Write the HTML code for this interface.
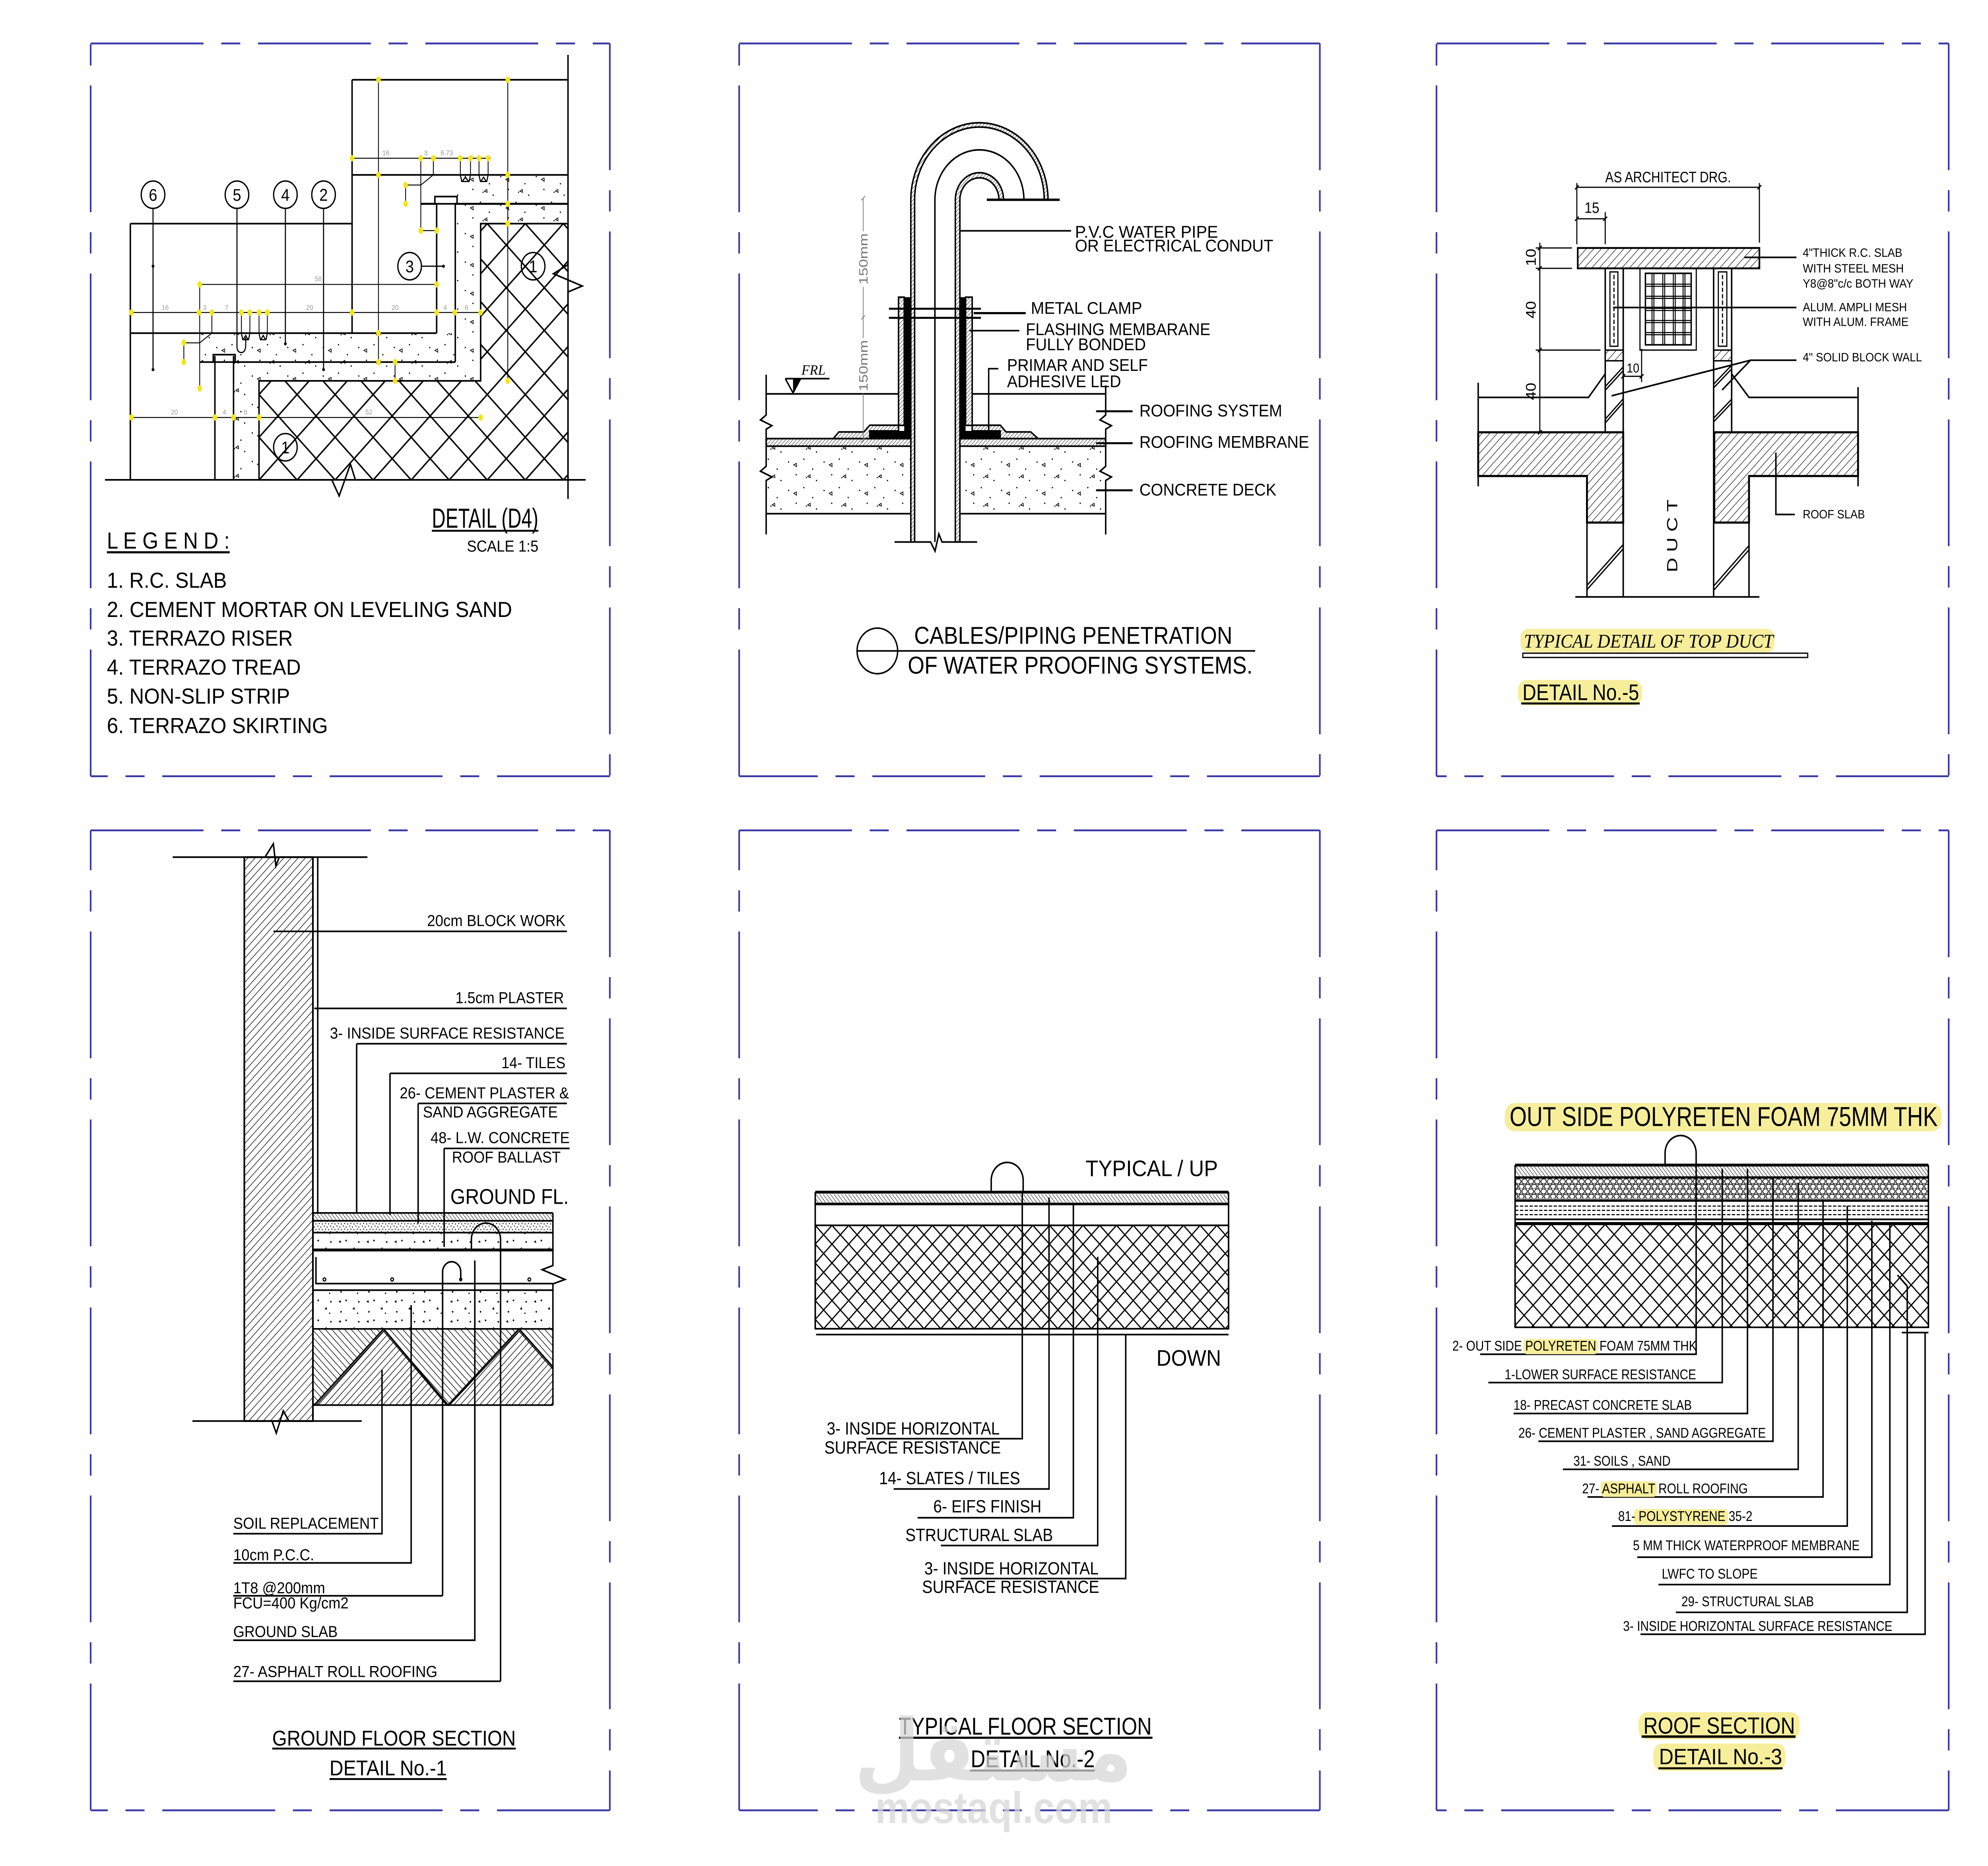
<!DOCTYPE html>
<html><head><meta charset="utf-8"><title>Construction Details</title>
<style>
html,body{margin:0;padding:0;background:#fff;width:100%;height:100%;overflow:hidden}
svg#main{position:absolute;left:0;top:0;width:100vw;height:100vh;display:block}
</style></head>
<body>
<svg id="main" xmlns="http://www.w3.org/2000/svg" viewBox="0 0 1568 1310.1" preserveAspectRatio="none" font-family="'Liberation Sans', Arial, sans-serif">
<defs>
<pattern id="xh30" patternUnits="userSpaceOnUse" x="204.3" y="157" width="30" height="30"><path d="M0,0L30,30M30,0L0,30M-2,28L2,32M28,-2L32,2" stroke="#000" stroke-width="1.1" fill="none"/></pattern>
<pattern id="xh13" patternUnits="userSpaceOnUse" x="643" y="860.3" width="13.2" height="13.2"><path d="M0,0L13.2,13.2M13.2,0L0,13.2" stroke="#000" stroke-width="0.9" fill="none"/></pattern>
<pattern id="xh14" patternUnits="userSpaceOnUse" x="1195" y="859.6" width="14.2" height="14.2"><path d="M0,0L14.2,14.2M14.2,0L0,14.2" stroke="#000" stroke-width="0.9" fill="none"/></pattern>
<pattern id="hw" patternUnits="userSpaceOnUse" width="4" height="4" patternTransform="rotate(45)"><line x1="0" y1="-1" x2="0" y2="5" stroke="#000" stroke-width="0.8"/></pattern>
<pattern id="hA" patternUnits="userSpaceOnUse" width="3.6" height="4" patternTransform="rotate(45)"><line x1="0" y1="-1" x2="0" y2="5" stroke="#000" stroke-width="0.85"/></pattern>
<pattern id="hB" patternUnits="userSpaceOnUse" width="3.6" height="4" patternTransform="rotate(-45)"><line x1="0" y1="-1" x2="0" y2="5" stroke="#000" stroke-width="0.85"/></pattern>
<pattern id="h45" patternUnits="userSpaceOnUse" width="4.2" height="4" patternTransform="rotate(45)"><line x1="0" y1="-1" x2="0" y2="5" stroke="#000" stroke-width="0.7"/></pattern>
<pattern id="h25" patternUnits="userSpaceOnUse" width="2" height="4" patternTransform="rotate(45)"><line x1="0" y1="-1" x2="0" y2="5" stroke="#000" stroke-width="0.5"/></pattern>
<pattern id="htile" patternUnits="userSpaceOnUse" width="2.2" height="4" patternTransform="rotate(-40)"><line x1="0" y1="-1" x2="0" y2="5" stroke="#000" stroke-width="0.6"/></pattern>
<pattern id="conc" patternUnits="userSpaceOnUse" width="28" height="20">
<g fill="#000"><circle cx="3" cy="4" r="0.5"/><circle cx="15" cy="2" r="0.5"/><circle cx="22" cy="9" r="0.5"/><circle cx="9" cy="13" r="0.5"/><circle cx="25" cy="17" r="0.5"/><circle cx="17" cy="15" r="0.45"/></g>
<g fill="none" stroke="#000" stroke-width="0.5"><path d="M7,6l2.2,-1l0.1,2.3z"/><path d="M20,13l-2,1.2l2.2,0.8z"/></g>
</pattern>
<pattern id="concB" patternUnits="userSpaceOnUse" width="22" height="14">
<g fill="#000"><path d="M3,4l1.6,-1.2l0.3,1.9z"/><path d="M14,9l1.5,-1.4l0.4,2z"/><circle cx="9" cy="3" r="0.6"/><circle cx="19" cy="4" r="0.6"/><circle cx="5" cy="11" r="0.6"/><circle cx="18" cy="12" r="0.5"/></g>
</pattern>
<pattern id="dense" patternUnits="userSpaceOnUse" width="5" height="4">
<g fill="#000"><circle cx="0.8" cy="0.8" r="0.4"/><circle cx="3" cy="1.5" r="0.4"/><circle cx="1.8" cy="3" r="0.4"/><circle cx="4.2" cy="3.3" r="0.4"/></g>
</pattern>
<pattern id="peb" patternUnits="userSpaceOnUse" x="1195" y="827.5" width="5" height="7">
<g fill="none" stroke="#000" stroke-width="0.55"><ellipse cx="2.5" cy="2" rx="2.1" ry="1.8"/><ellipse cx="0" cy="5.5" rx="2.1" ry="1.6"/><ellipse cx="5" cy="5.5" rx="2.1" ry="1.6"/></g>
</pattern>
</defs>
<rect width="1568" height="1310.1" fill="#fff"/>

<!-- ===== Panel borders ===== -->
<g stroke="#3b39a6" stroke-width="1.3" fill="none" stroke-dasharray="89 14 15 14">
<path d="M71.5,30.5H481"/><path d="M481,30.5V545"/><path d="M481,545H71.5"/><path d="M71.5,545V30.5"/>
<path d="M583,30.5H1041"/><path d="M1041,30.5V545"/><path d="M1041,545H583"/><path d="M583,545V30.5"/>
<path d="M1133,30.5H1537"/><path d="M1537,30.5V545"/><path d="M1537,545H1133"/><path d="M1133,545V30.5"/>
<path d="M71.5,583H481"/><path d="M481,583V1271"/><path d="M481,1271H71.5"/><path d="M71.5,1271V583"/>
<path d="M583,583H1041"/><path d="M1041,583V1271"/><path d="M1041,1271H583"/><path d="M583,1271V583"/>
<path d="M1133,583H1537"/><path d="M1537,583V1271"/><path d="M1537,1271H1133"/><path d="M1133,1271V583"/>
</g>

<!-- ===== PANEL 1: DETAIL D4 ===== -->
<g>
<path d="M359.1,143.1H448V157H379.1V267.4H204.3V336.9H184.2V254.2H359.1Z" fill="url(#conc)"/>
<rect x="359.1" y="122.8" width="88.9" height="20.3" fill="url(#conc)"/>
<rect x="157.5" y="233.9" width="201.6" height="20.3" fill="url(#conc)"/>
<path d="M379.1,157H448V336.9H204.3V267.4H379.1Z" fill="url(#xh30)" stroke="#000" stroke-width="1.15"/>
<g fill="none" stroke="#000" stroke-width="1.15">
<path d="M277.7,56H448"/>
<path d="M277.7,56V233.9"/>
<path d="M277.7,122.8H448"/>
<path d="M331.9,143.1H344.4M359.1,143.1H448" stroke-width="1.4"/>
<path d="M344.4,143.1V233.9"/>
<path d="M359.1,143.1V254.2"/>
<rect x="343" y="138" width="17.5" height="5.1"/>
<path d="M102.8,233.9H344.4"/>
<path d="M184.2,254.2H359.1"/>
<path d="M157.5,254.2H169.5"/>
<path d="M169.5,249.9V336.9M184.2,249.9V336.9"/>
<rect x="168.2" y="249" width="17.3" height="5.2"/>
<path d="M102.8,157V336.9M102.8,157H277.7"/>
<path d="M82.8,336.9H261.7L267.5,348.2L276.4,325.8L280.3,336.9H461.9"/>
<path d="M448,38.5V185.8L436.5,192.2L459.2,200.8L448,205V350.3"/>
</g>
<g fill="none" stroke="#000" stroke-width="0.65">
<path d="M277.7,111.1H387.1"/>
<path d="M102.8,219.4H379.1"/>
<path d="M157.5,199.7H344.4"/>
<path d="M102.8,293.1H379.1"/>
<path d="M298.5,56V254.2"/>
<path d="M400.5,56V267.4"/>
<path d="M157.5,199.7V272.8"/>
<path d="M331.9,111.1V161.9H344.4"/>
<path d="M341.8,111.1V122.8"/>
<path d="M311.6,254.2V267.4"/>
<path d="M319.9,129.9V143.1M319.9,129.9H331.9L341.8,122.8"/>
<path d="M145,240.7V254.2M145,240.7H157.5L167.1,233.9"/>
<path d="M167.1,219.4V233.9"/>
<path d="M190.4,219.4V233.9M197.1,219.4V233.9M204.3,219.4V233.9M210.9,219.4V233.9"/>
<path d="M363.1,111.1V122.8M371.1,111.1V122.8M377.8,111.1V122.8M385,111.1V122.8"/>
</g>
<g fill="none" stroke="#000" stroke-width="0.85">
<path d="M190.4,233.9L191.5,238.5H196L197.1,233.9M191.8,238.5L193.8,235.5L195.6,238.5"/>
<path d="M204.3,233.9L205.4,238.5H209.8L210.9,233.9M205.7,238.5L207.6,235.5L209.4,238.5"/>
<path d="M363.1,122.8L364.2,127.4H370L371.1,122.8M364.6,127.4L367.1,124.4L369.6,127.4"/>
<path d="M377.8,122.8L378.9,127.4H383.9L385,122.8M379.3,127.4L381.4,124.4L383.5,127.4"/>
</g>
<g fill="#f2e61a">
<ellipse cx="277.7" cy="111.1" rx="1.8" ry="2.2"/><ellipse cx="331.9" cy="111.1" rx="1.8" ry="2.2"/><ellipse cx="341.8" cy="111.1" rx="1.8" ry="2.2"/><ellipse cx="363.1" cy="111.1" rx="1.8" ry="2.2"/><ellipse cx="371.1" cy="111.1" rx="1.8" ry="2.2"/><ellipse cx="377.8" cy="111.1" rx="1.8" ry="2.2"/><ellipse cx="385" cy="111.1" rx="1.8" ry="2.2"/>
<ellipse cx="103.6" cy="219.4" rx="1.8" ry="2.2"/><ellipse cx="157" cy="219.4" rx="1.8" ry="2.2"/><ellipse cx="167.1" cy="219.4" rx="1.8" ry="2.2"/><ellipse cx="190.4" cy="219.4" rx="1.8" ry="2.2"/><ellipse cx="197.1" cy="219.4" rx="1.8" ry="2.2"/><ellipse cx="204.3" cy="219.4" rx="1.8" ry="2.2"/><ellipse cx="210.9" cy="219.4" rx="1.8" ry="2.2"/><ellipse cx="277.7" cy="219.4" rx="1.8" ry="2.2"/><ellipse cx="344.4" cy="219.4" rx="1.8" ry="2.2"/><ellipse cx="358.6" cy="219.4" rx="1.8" ry="2.2"/><ellipse cx="379.1" cy="219.4" rx="1.8" ry="2.2"/>
<ellipse cx="157.5" cy="199.7" rx="1.8" ry="2.2"/><ellipse cx="344.4" cy="199.7" rx="1.8" ry="2.2"/>
<ellipse cx="103.6" cy="293.1" rx="1.8" ry="2.2"/><ellipse cx="169.5" cy="293.1" rx="1.8" ry="2.2"/><ellipse cx="184.2" cy="293.1" rx="1.8" ry="2.2"/><ellipse cx="204.3" cy="293.1" rx="1.8" ry="2.2"/><ellipse cx="379.1" cy="293.1" rx="1.8" ry="2.2"/>
<ellipse cx="298.5" cy="56" rx="1.8" ry="2.2"/><ellipse cx="298.5" cy="122.8" rx="1.8" ry="2.2"/><ellipse cx="298.5" cy="233.9" rx="1.8" ry="2.2"/><ellipse cx="298.5" cy="254.2" rx="1.8" ry="2.2"/>
<ellipse cx="400.5" cy="56" rx="1.8" ry="2.2"/><ellipse cx="400.5" cy="122.8" rx="1.8" ry="2.2"/><ellipse cx="400.5" cy="143.1" rx="1.8" ry="2.2"/><ellipse cx="400.5" cy="157" rx="1.8" ry="2.2"/><ellipse cx="400.5" cy="267.4" rx="1.8" ry="2.2"/>
<ellipse cx="157.5" cy="272.8" rx="1.8" ry="2.2"/><ellipse cx="331.9" cy="161.9" rx="1.8" ry="2.2"/><ellipse cx="344.4" cy="161.9" rx="1.8" ry="2.2"/>
<ellipse cx="319.9" cy="129.9" rx="1.8" ry="2.2"/><ellipse cx="319.9" cy="143.1" rx="1.8" ry="2.2"/>
<ellipse cx="145" cy="240.7" rx="1.8" ry="2.2"/><ellipse cx="145" cy="254.2" rx="1.8" ry="2.2"/>
<ellipse cx="311.6" cy="254.2" rx="1.8" ry="2.2"/><ellipse cx="311.6" cy="267.4" rx="1.8" ry="2.2"/>
</g>
<g fill="#999" font-size="5" text-anchor="middle">
<text x="304.4" y="109">16</text><text x="335.9" y="109">3</text><text x="352.4" y="109">6.73</text>
<text x="130.3" y="217.5">16</text><text x="161.5" y="217.5">3</text><text x="178.9" y="217.5">7</text><text x="244.3" y="217.5">20</text><text x="311.6" y="217.5">20</text><text x="351.1" y="217.5">4</text><text x="367.9" y="217.5">6</text>
<text x="251" y="197.5">58</text><text x="137.5" y="291">20</text><text x="177" y="291">4</text><text x="193.8" y="291">6</text><text x="291" y="291">52</text>
</g>
<g fill="none" stroke="#000" stroke-width="0.85">
<path d="M120.7,146.3V259.5M225.1,146.3V241.4M255.2,146.3V259.5M332.4,186.9H349.8"/>
<path d="M186.9,146.3V243Q186.9,247.5 190.3,247.5Q193.8,247.5 193.8,242V237"/>
</g>
<g fill="#000"><circle cx="120.7" cy="186.9" r="1.1"/><circle cx="120.7" cy="259.5" r="1.1"/><circle cx="225.1" cy="241.4" r="1.1"/><circle cx="255.2" cy="259.5" r="1.1"/><circle cx="349.8" cy="186.9" r="1.1"/></g>
<g stroke="#000" stroke-width="1" fill="#fff">
<ellipse cx="120.7" cy="136.7" rx="9.3" ry="9.6"/><ellipse cx="186.9" cy="136.7" rx="9.3" ry="9.6"/><ellipse cx="225.1" cy="136.7" rx="9.3" ry="9.6"/><ellipse cx="255.2" cy="136.7" rx="9.3" ry="9.6"/><ellipse cx="323.1" cy="186.9" rx="9.3" ry="9.6"/>
<ellipse cx="420.5" cy="186.9" rx="9.3" ry="9.6" fill="none"/><ellipse cx="225.1" cy="314" rx="9.3" ry="9.6" fill="none"/>
</g>
<g font-size="12" text-anchor="middle" fill="#000">
<text x="120.7" y="141">6</text><text x="186.9" y="141">5</text><text x="225.1" y="141">4</text><text x="255.2" y="141">2</text><text x="323.1" y="191.2">3</text><text x="420.5" y="191.2">1</text><text x="225.1" y="318.3">1</text>
</g>
<text x="340.6" y="370.5" font-size="19.5" textLength="84" lengthAdjust="spacingAndGlyphs">DETAIL (D4)</text>
<rect x="340.6" y="372" width="84" height="1.3" fill="#000"/>
<text x="368.3" y="387.2" font-size="11.2" textLength="56.4" lengthAdjust="spacingAndGlyphs">SCALE 1:5</text>
<text x="84.3" y="385.2" font-size="16.2" textLength="96.9" lengthAdjust="spacingAndGlyphs">L E G E N D :</text>
<rect x="84.3" y="387" width="96.9" height="1.5" fill="#000"/>
<g font-size="15.3">
<text x="84.3" y="412.6" textLength="94.6" lengthAdjust="spacingAndGlyphs">1. R.C. SLAB</text>
<text x="84.3" y="433.2" textLength="319.6" lengthAdjust="spacingAndGlyphs">2. CEMENT MORTAR ON LEVELING SAND</text>
<text x="84.3" y="453.3" textLength="146.7" lengthAdjust="spacingAndGlyphs">3. TERRAZO RISER</text>
<text x="84.3" y="473.7" textLength="153" lengthAdjust="spacingAndGlyphs">4. TERRAZO TREAD</text>
<text x="84.3" y="494" textLength="144.4" lengthAdjust="spacingAndGlyphs">5. NON-SLIP STRIP</text>
<text x="84.3" y="514.7" textLength="174.3" lengthAdjust="spacingAndGlyphs">6. TERRAZO SKIRTING</text>
</g>
</g>

<!-- ===== PANEL 2: PIPE PENETRATION ===== -->
<g transform="translate(3,0.35)">
<rect x="601.3" y="312.9" width="114.1" height="47.4" fill="url(#conc)"/>
<rect x="754.1" y="312.9" width="115" height="47.4" fill="url(#conc)"/>
<g fill="none" stroke="#000" stroke-width="1.15">
<rect x="601.3" y="307.6" width="114.1" height="5.3" fill="url(#h25)"/>
<rect x="754.1" y="307.6" width="115" height="5.3" fill="url(#h25)"/>
<path d="M601.3,360.3H715.4M754.1,360.3H869.1"/>
<path d="M601.3,276.2H705.7M763.8,276.2H869.1"/>
<path d="M601.3,262.7V291L596.8,294.5L605.8,298.5L601.3,301V327L596.8,330.5L605.8,334.5L601.3,337V374.9"/>
<path d="M869.1,270.2V291L864.6,294.5L873.6,298.5L869.1,301V327L864.6,330.5L873.6,334.5L869.1,337V374.9"/>
<path d="M715.4,380.2V139.9A54.1,54.1 0 0 1 823.6,139.9H820.6A51.1,51.1 0 0 0 718.4,139.9V380.2Z" fill="url(#h25)"/>
<path d="M734.4,380.2V139.9A35.1,35.1 0 0 1 804.6,139.9"/>
<path d="M750.5,380.2V139.9A19,19 0 0 1 788.5,139.9H784.9A15.4,15.4 0 0 0 754.1,139.9V380.2Z" fill="url(#h25)"/>
<path d="M775.3,139.9H832.8" stroke-width="1.7"/>
<path d="M702.6,380.2H731L734.5,386.6L737.5,374.5L740,380.2H767.7"/>
<rect x="705.7" y="208.3" width="4.5" height="90" fill="url(#h25)"/>
<rect x="758.6" y="208.3" width="5.2" height="90" fill="url(#h25)"/>
<path d="M654.2,307.6L658.7,302.9H678.4L683,298.2H705.7V302.2H683V307.6Z" fill="url(#h25)"/>
<path d="M763.8,298.2H786L790.5,302.9H810L815.8,307.6H785.9V302.2H763.8Z" fill="url(#h25)"/>
<path d="M698.1,216.4H770.7M698.1,222.8H770.7" stroke-width="1.4"/>
</g>
<g fill="#000">
<rect x="710.2" y="208.3" width="5.2" height="99.9"/>
<rect x="754.1" y="208.3" width="4.5" height="99.9"/>
<rect x="683" y="302.2" width="32.4" height="6"/>
<rect x="754.1" y="302.2" width="31.8" height="6"/>
</g>
<g stroke="#777" stroke-width="0.55" fill="none">
<path d="M677.8,138.8V162M677.8,201V237M677.8,276V308.7"/>
<path d="M676.3,140.3L679.3,137.3M676.3,224L679.3,221M676.3,310.2L679.3,307.2"/>
</g>
<g fill="#777" font-size="9.5">
<text transform="translate(681.3,181.5) rotate(-90)" text-anchor="middle" textLength="36" lengthAdjust="spacingAndGlyphs">150mm</text>
<text transform="translate(681.3,256.4) rotate(-90)" text-anchor="middle" textLength="36" lengthAdjust="spacingAndGlyphs">150mm</text>
</g>
<path d="M616.4,265.5H651.2M616.4,265.5L622.5,275.5L628.5,265.5" fill="none" stroke="#000" stroke-width="1.1"/>
<path d="M622.5,265.5H628.5L622.5,275.5Z" fill="#000"/>
<text x="629.1" y="262.7" font-family="'Liberation Serif',serif" font-style="italic" font-size="10" textLength="19" lengthAdjust="spacingAndGlyphs">FRL</text>
<g fill="none" stroke="#000" stroke-width="1.1">
<path d="M754.1,161.7H841.8"/>
<path d="M765,219.5H806" stroke-width="1.5"/>
<path d="M761.7,231.8H801"/>
<path d="M776.8,305.5V258.5H784.4"/>
<path d="M861.5,288.4H890.3" stroke-width="1.4"/>
<path d="M861.5,310.8H890.3" stroke-width="1.4"/>
<path d="M861.5,343.9H890.3" stroke-width="1.4"/>
</g>
<circle cx="776.8" cy="305.5" r="1.3" fill="#000"/>
<g font-size="11.9">
<text x="844.9" y="166.6" textLength="112.8" lengthAdjust="spacingAndGlyphs">P.V.C WATER PIPE</text>
<text x="844.9" y="176.2" textLength="156.4" lengthAdjust="spacingAndGlyphs">OR ELECTRICAL CONDUT</text>
<text x="810.1" y="220" textLength="87.7" lengthAdjust="spacingAndGlyphs">METAL CLAMP</text>
<text x="806.1" y="235" textLength="145.6" lengthAdjust="spacingAndGlyphs">FLASHING MEMBARANE</text>
<text x="806.1" y="245.6" textLength="94.7" lengthAdjust="spacingAndGlyphs">FULLY BONDED</text>
<text x="791.3" y="260" textLength="111.1" lengthAdjust="spacingAndGlyphs">PRIMAR AND SELF</text>
<text x="791.3" y="271.5" textLength="89.9" lengthAdjust="spacingAndGlyphs">ADHESIVE LED</text>
<text x="895.7" y="292" textLength="112.6" lengthAdjust="spacingAndGlyphs">ROOFING SYSTEM</text>
<text x="895.7" y="314" textLength="133.8" lengthAdjust="spacingAndGlyphs">ROOFING MEMBRANE</text>
<text x="895.7" y="347.5" textLength="108" lengthAdjust="spacingAndGlyphs">CONCRETE DECK</text>
</g>
</g>
<circle cx="692" cy="457" r="16" fill="none" stroke="#000" stroke-width="1.1"/>
<path d="M676,457H990" stroke="#000" stroke-width="1.1"/>
<text x="721" y="452" font-size="17" textLength="251" lengthAdjust="spacingAndGlyphs">CABLES/PIPING PENETRATION</text>
<text x="716" y="473" font-size="17" textLength="272" lengthAdjust="spacingAndGlyphs">OF WATER PROOFING SYSTEMS.</text>

<!-- ===== PANEL 3: TOP DUCT ===== -->
<g fill="none" stroke="#000" stroke-width="0.85">
<path d="M1243.7,131.5H1387.7M1243.7,128.5V171.5M1387.7,128.5V170.4"/>
<path d="M1242.2,133L1245.2,130M1386.2,133L1389.2,130"/>
<path d="M1243.7,153.6H1266.1M1266.1,148.9V171.5M1242.2,155.1L1245.2,152.1M1264.6,155.1L1267.6,152.1"/>
<path d="M1214.5,170.4V304.5M1211.3,174.1H1239.9M1211.3,188.4H1239.9M1211.3,245.8H1262.4"/>
<path d="M1213,175.6L1216,172.6M1213,189.9L1216,186.9M1213,247.3L1216,244.3M1213,305L1216,302"/>
<path d="M1294.8,245.8V268.3M1280.3,264.2H1294.8M1278.8,265.7L1281.8,262.7M1293.3,265.7L1296.3,262.7"/>
</g>
<circle cx="1294.8" cy="245.8" r="0.9" fill="#000"/>
<rect x="1244.4" y="174.1" width="143.3" height="14.3" fill="url(#h45)" stroke="#000" stroke-width="1.3"/>
<path d="M1165.9,303.5H1280.3V366.9H1251.7V334.2H1165.9Z" fill="url(#h45)" stroke="#000" stroke-width="1.5"/>
<path d="M1352.1,303.5H1465.5V334.2H1379.5V366.9H1352.1Z" fill="url(#h45)" stroke="#000" stroke-width="1.5"/>
<rect x="1266.1" y="245.8" width="14.2" height="7.5" fill="url(#h45)" stroke="#000" stroke-width="1"/>
<rect x="1351.6" y="245.8" width="14.2" height="7.5" fill="url(#h45)" stroke="#000" stroke-width="1"/>
<g fill="none" stroke="#000" stroke-width="1.15">
<path d="M1266.1,188.4V303.5M1280.3,188.4V419.1M1251.7,366.9V419.1"/>
<path d="M1351.6,188.4V419.1M1365.8,188.4V303.5M1379.5,366.9V419.1"/>
<path d="M1242.5,419.1H1387.7"/>
<path d="M1165.9,279H1252.9L1266.1,262.5M1365.8,262.5L1379.5,279H1465.5"/>
<path d="M1165.9,268.7V341.4M1465.5,271.8V341.4"/>
<rect x="1269.8" y="190.9" width="6.3" height="52.2" stroke-width="0.9"/>
<rect x="1355.3" y="190.9" width="6.7" height="52.2" stroke-width="0.9"/>
<path d="M1273,193V241M1358.6,193V241" stroke-dasharray="3 1.5" stroke-width="0.9"/>
<rect x="1293.5" y="188.4" width="44.4" height="57.4" stroke-width="0.9"/>
<rect x="1297.8" y="191.9" width="36.1" height="50.2" stroke-width="1.1"/>
<path d="M1303,191.9V242.1M1304.5,191.9V242.1M1311.5,191.9V242.1M1313,191.9V242.1M1319.8,191.9V242.1M1321.3,191.9V242.1M1327.5,191.9V242.1M1329,191.9V242.1" stroke-width="0.75"/>
<path d="M1297.8,199.5H1333.9M1297.8,201H1333.9M1297.8,208H1333.9M1297.8,209.5H1333.9M1297.8,216.5H1333.9M1297.8,218H1333.9M1297.8,225H1333.9M1297.8,226.5H1333.9M1297.8,233.5H1333.9M1297.8,235H1333.9" stroke-width="0.75"/>
<path d="M1266.1,271.4L1280.3,257.6M1266.1,274L1280.3,260.2M1266.1,294.3L1280.3,280M1266.1,296.9L1280.3,282.6" stroke-width="0.95"/>
<path d="M1351.6,269.7L1365.8,256.4M1351.6,272.3L1365.8,259M1351.6,293.6L1365.8,280.3M1351.6,296.2L1365.8,282.9" stroke-width="0.95"/>
<path d="M1251.7,411L1280.3,382.3M1251.7,414L1280.3,385.3M1352.1,411L1379.5,383M1352.1,414L1379.5,386" stroke-width="0.95"/>
<path d="M1375.8,180.7H1416.9M1272.3,215.9H1416.9M1416.9,252.9H1380.7L1271.1,277.9M1380.7,252.9L1358.3,273.8M1415.6,361.2H1400.7V317.8"/>
</g>
<text x="1266.1" y="127.9" font-size="10.6" textLength="99.2" lengthAdjust="spacingAndGlyphs">AS ARCHITECT DRG.</text>
<text x="1255.6" y="149.5" font-size="10.5" text-anchor="middle">15</text>
<g font-size="11" text-anchor="middle">
<text transform="translate(1211.3,180.7) rotate(-90)">10</text>
<text transform="translate(1211.3,217.5) rotate(-90)">40</text>
<text transform="translate(1211.3,274.8) rotate(-90)">40</text>
</g>
<text x="1288" y="261.5" font-size="9" text-anchor="middle">10</text>
<text transform="translate(1322.9,401.8) rotate(-90)" font-size="11.5" textLength="51.2" lengthAdjust="spacingAndGlyphs">D U C T</text>
<g font-size="8.5">
<text x="1421.9" y="180.3" textLength="78.5" lengthAdjust="spacingAndGlyphs">4"THICK R.C. SLAB</text>
<text x="1421.9" y="191.3" textLength="79.7" lengthAdjust="spacingAndGlyphs">WITH STEEL MESH</text>
<text x="1421.9" y="202" textLength="87.2" lengthAdjust="spacingAndGlyphs">Y8@8"c/c BOTH WAY</text>
<text x="1421.9" y="218.5" textLength="82.2" lengthAdjust="spacingAndGlyphs">ALUM. AMPLI MESH</text>
<text x="1421.9" y="228.8" textLength="83.4" lengthAdjust="spacingAndGlyphs">WITH ALUM. FRAME</text>
<text x="1421.9" y="253.7" textLength="94" lengthAdjust="spacingAndGlyphs">4" SOLID BLOCK WALL</text>
<text x="1421.9" y="363.9" textLength="49" lengthAdjust="spacingAndGlyphs">ROOF SLAB</text>
</g>
<rect x="1199.3" y="441.5" width="200.3" height="16.5" rx="6" fill="#f7ee9c"/>
<text x="1202" y="454.7" font-family="'Liberation Serif',serif" font-style="italic" font-size="13.7" textLength="196.7" lengthAdjust="spacingAndGlyphs">TYPICAL DETAIL OF TOP DUCT</text>
<rect x="1201.1" y="458.6" width="224.7" height="3" fill="#fff" stroke="#000" stroke-width="0.9"/>
<rect x="1197.2" y="477.4" width="97.9" height="17.8" rx="7" fill="#f7ee9c"/>
<text x="1200.8" y="491.5" font-size="15.8" textLength="92" lengthAdjust="spacingAndGlyphs">DETAIL No.-5</text>
<rect x="1199.8" y="493.2" width="93.5" height="1.4" fill="#000"/>

<!-- ===== PANEL 4: GROUND FLOOR SECTION ===== -->
<rect x="192.7" y="601.8" width="54.1" height="395.9" fill="url(#hw)" stroke="#000" stroke-width="1.3"/>
<rect x="246.8" y="851.6" width="189.3" height="5.5" fill="url(#htile)"/>
<rect x="246.8" y="857.1" width="189.3" height="8.3" fill="url(#dense)"/>
<rect x="246.8" y="865.4" width="189.3" height="11.6" fill="url(#concB)"/>
<rect x="246.8" y="905.8" width="189.3" height="27.2" fill="url(#concB)"/>
<path d="M302.6,933L353.4,986.5L409.4,933Z M246.8,933H302.6L247.9,986.5H246.8Z M409.4,933H436.1V959.7Z" fill="url(#hB)"/>
<path d="M247.9,986.5L302.6,933L353.4,986.5Z M353.4,986.5L409.4,933L436.1,959.7V986.5Z" fill="url(#hA)"/>
<g fill="none" stroke="#000" stroke-width="1.15">
<path d="M250.6,601.8V851.6"/>
<path d="M136.2,601.8H209L215.6,592.4L217.6,608L220.2,601.8H289.8"/>
<path d="M151.8,997.7H214.5L217.9,1006.2L223.4,990.5L227.9,997.7H285.3"/>
<path d="M246.8,851.6H436.1M246.8,857.1H436.1M246.8,865.4H436.1M246.8,905.8H436.1M246.8,933H436.1M246.8,986.5H436.1"/>
<path d="M246.8,877.6H436.1" stroke-width="2"/>
<path d="M249.2,882.6V901.2H436.1"/>
<path d="M436.1,851.6V888.5L427.6,891.4L445.6,898.3L436.1,901.4V986.5"/>
<path d="M247.9,986.5L302.6,933L353.4,986.5L409.4,933L436.1,959.7"/>
<path d="M249.6,986.5L302.6,934.6L352.2,986.5M354.6,986.5L409.4,934.6L436.1,961.3" stroke-width="0.65"/>
<path d="M349.1,1120.4V893A7.15,7.15 0 0 1 363.4,893V898.3"/>
<path d="M371.8,877.6V870.2A11.5,11.5 0 0 1 394.8,870.2V1180.4"/>
<path d="M215.7,653.9H447.1M247.9,708H447.1M281.3,732.8H447.1M281.3,732.8V851.6M307.6,753.6H447.1M307.6,753.6V853M329.8,774.7H447.1M329.8,774.7V859M350.3,806.3H449.3M350.3,806.3V875.5"/>
<path d="M301.3,961.7V1076.8H184M324.3,916.3V1097.3H184M349.1,1120.4H184M374.5,884.9V1151.6H184M394.8,1180.4H184"/>
</g>
<g fill="#fff" stroke="#000" stroke-width="0.85"><circle cx="255.9" cy="898.3" r="1.1"/><circle cx="309.3" cy="898.3" r="1.1"/><circle cx="417.5" cy="898.3" r="1.1"/></g>
<circle cx="363.4" cy="898.3" r="1.3" fill="#000"/>
<g font-size="11">
<text x="336.9" y="650.2" textLength="109.1" lengthAdjust="spacingAndGlyphs">20cm BLOCK WORK</text>
<text x="359.2" y="704.3" textLength="85.6" lengthAdjust="spacingAndGlyphs">1.5cm PLASTER</text>
<text x="260.2" y="729.1" textLength="185.1" lengthAdjust="spacingAndGlyphs">3- INSIDE SURFACE RESISTANCE</text>
<text x="395.5" y="749.9" textLength="50.5" lengthAdjust="spacingAndGlyphs">14- TILES</text>
<text x="315.3" y="771.2" textLength="133.5" lengthAdjust="spacingAndGlyphs">26- CEMENT PLASTER &amp;</text>
<text x="333.6" y="784.6" textLength="106.3" lengthAdjust="spacingAndGlyphs">SAND AGGREGATE</text>
<text x="339.6" y="802.6" textLength="109.7" lengthAdjust="spacingAndGlyphs">48- L.W. CONCRETE</text>
<text x="356.5" y="816.2" textLength="85.7" lengthAdjust="spacingAndGlyphs">ROOF BALLAST</text>
</g>
<text x="355.2" y="845.3" font-size="15" textLength="93.4" lengthAdjust="spacingAndGlyphs">GROUND FL.</text>
<g font-size="11.2">
<text x="184" y="1073.3" textLength="114.7" lengthAdjust="spacingAndGlyphs">SOIL REPLACEMENT</text>
<text x="184" y="1095.5" textLength="63.8" lengthAdjust="spacingAndGlyphs">10cm P.C.C.</text>
<text x="184" y="1118.7" textLength="72.4" lengthAdjust="spacingAndGlyphs">1T8 @200mm</text>
<text x="184" y="1129.3" textLength="90.9" lengthAdjust="spacingAndGlyphs">FCU=400 Kg/cm2</text>
<text x="184" y="1149.3" textLength="82.3" lengthAdjust="spacingAndGlyphs">GROUND SLAB</text>
<text x="184" y="1177.4" textLength="161" lengthAdjust="spacingAndGlyphs">27- ASPHALT ROLL ROOFING</text>
</g>
<text x="214.7" y="1225.5" font-size="15" textLength="192.1" lengthAdjust="spacingAndGlyphs">GROUND FLOOR SECTION</text>
<rect x="214.7" y="1227" width="192.1" height="1.3" fill="#000"/>
<text x="259.9" y="1246.5" font-size="15" textLength="92.5" lengthAdjust="spacingAndGlyphs">DETAIL No.-1</text>
<rect x="259.9" y="1248.4" width="92.5" height="1.3" fill="#000"/>

<!-- ===== PANEL 5: TYPICAL FLOOR SECTION ===== -->
<rect x="643" y="860.3" width="326" height="72.6" fill="url(#xh13)" stroke="#000" stroke-width="1.15"/>
<rect x="643" y="838.5" width="326" height="5.7" fill="url(#htile)"/>
<g fill="none" stroke="#000" stroke-width="1.15">
<path d="M643,837H969" stroke-width="2"/>
<path d="M643,845.3H969" stroke-width="1.8"/>
<path d="M643,837V933M969,837V933"/>
<path d="M643.7,937H969"/>
<path d="M781.8,837V828.7A12.6,12.6 0 0 1 807,828.7V837"/>
<path d="M806.3,837V1010.1H683.3"/>
<path d="M827.4,840.8V1045.4H704.9"/>
<path d="M846.6,846V1065.6H723.7"/>
<path d="M865.8,882.4V1085.1H742.1"/>
<path d="M887.9,937V1108.3H757.8"/>
</g>
<text x="856.2" y="825.7" font-size="15.7" textLength="104.4" lengthAdjust="spacingAndGlyphs">TYPICAL / UP</text>
<text x="912.1" y="958.8" font-size="15.7" textLength="51" lengthAdjust="spacingAndGlyphs">DOWN</text>
<g font-size="12.5">
<text x="652.1" y="1007.1" textLength="136.4" lengthAdjust="spacingAndGlyphs">3- INSIDE HORIZONTAL</text>
<text x="650.2" y="1020.6" textLength="139.2" lengthAdjust="spacingAndGlyphs">SURFACE RESISTANCE</text>
<text x="693.4" y="1042" textLength="111.2" lengthAdjust="spacingAndGlyphs">14- SLATES / TILES</text>
<text x="736.1" y="1061.8" textLength="85.3" lengthAdjust="spacingAndGlyphs">6- EIFS FINISH</text>
<text x="714.1" y="1082" textLength="116.4" lengthAdjust="spacingAndGlyphs">STRUCTURAL SLAB</text>
<text x="729" y="1105.4" textLength="137.5" lengthAdjust="spacingAndGlyphs">3- INSIDE HORIZONTAL</text>
<text x="727.3" y="1118.4" textLength="139.7" lengthAdjust="spacingAndGlyphs">SURFACE RESISTANCE</text>
</g>
<text x="709" y="1217.9" font-size="17" textLength="199.4" lengthAdjust="spacingAndGlyphs">TYPICAL FLOOR SECTION</text>
<rect x="709" y="1219.3" width="200" height="1.5" fill="#000"/>
<text x="765.6" y="1240.8" font-size="17" textLength="97.9" lengthAdjust="spacingAndGlyphs">DETAIL No.-2</text>
<rect x="765.1" y="1242.4" width="98.4" height="1.4" fill="#000"/>

<!-- ===== PANEL 6: ROOF SECTION ===== -->
<rect x="1186.8" y="774.4" width="344.6" height="19.9" rx="8" fill="#f7ee9c"/>
<text x="1190.7" y="790.6" font-size="19.1" textLength="337.6" lengthAdjust="spacingAndGlyphs">OUT SIDE POLYRETEN FOAM 75MM THK</text>
<rect x="1195" y="859.6" width="326" height="72.3" fill="url(#xh14)" stroke="#000" stroke-width="1.15"/>
<rect x="1195" y="818.9" width="326" height="7.8" fill="url(#htile)"/>
<rect x="1195" y="827.5" width="326" height="14.2" fill="url(#peb)"/>
<g fill="none" stroke="#000" stroke-width="1.15">
<path d="M1195,818H1521" stroke-width="2"/>
<path d="M1195,826.7H1521" stroke-width="1.6"/>
<path d="M1195,842.9H1521" stroke-width="1.7"/>
<path d="M1195,846.8H1521M1195,849.8H1521M1195,852.8H1521" stroke-dasharray="2.6 1.2" stroke-width="0.75"/>
<path d="M1195,856.1H1521M1195,858.6H1521" stroke-width="1.2"/>
<path d="M1195,818V931.9M1521,818V931.9"/>
<path d="M1500,935.6H1521"/>
<path d="M1313.3,818V809.5A12.25,12.25 0 0 1 1337.8,809.5V818"/>
<path d="M1337.8,818V950.8H1167.4"/>
<path d="M1358.4,820.5V970.7H1173.9"/>
<path d="M1378.3,820.5V992.4H1193.8"/>
<path d="M1398.4,826.7V1011.9H1213.4"/>
<path d="M1418.3,830.4V1031.6H1232.7"/>
<path d="M1437.9,842.9V1051H1252.1"/>
<path d="M1457,846.6V1071.4H1271.4"/>
<path d="M1476.4,857.1V1093.3H1291.3"/>
<path d="M1490.6,859.1V1112.5H1308.1"/>
<path d="M1496.6,895.2L1504.3,903V1132H1321.8"/>
<path d="M1518.4,935.6V1147.4H1293.9"/>
</g>
<g fill="#f7ee9c">
<rect x="1201.5" y="940.1" width="58.8" height="10.7" rx="3"/>
<rect x="1262.4" y="1040" width="44.4" height="11" rx="3"/>
<rect x="1288.7" y="1059.5" width="74.4" height="11" rx="3"/>
</g>
<g font-size="9.7">
<text x="1145.5" y="948.3" textLength="192.8" lengthAdjust="spacingAndGlyphs">2- OUT SIDE POLYRETEN FOAM 75MM THK</text>
<text x="1186.8" y="968.3" textLength="151" lengthAdjust="spacingAndGlyphs">1-LOWER SURFACE RESISTANCE</text>
<text x="1193.8" y="989.9" textLength="140.6" lengthAdjust="spacingAndGlyphs">18- PRECAST CONCRETE SLAB</text>
<text x="1197.6" y="1009.4" textLength="195.2" lengthAdjust="spacingAndGlyphs">26- CEMENT PLASTER , SAND AGGREGATE</text>
<text x="1241" y="1029.1" textLength="76.6" lengthAdjust="spacingAndGlyphs">31- SOILS , SAND</text>
<text x="1247.9" y="1048.5" textLength="130.7" lengthAdjust="spacingAndGlyphs">27- ASPHALT ROLL ROOFING</text>
<text x="1276.3" y="1067.9" textLength="105.9" lengthAdjust="spacingAndGlyphs">81- POLYSTYRENE 35-2</text>
<text x="1288" y="1088.4" textLength="178.8" lengthAdjust="spacingAndGlyphs">5 MM THICK WATERPROOF MEMBRANE</text>
<text x="1310.7" y="1108.3" textLength="75.6" lengthAdjust="spacingAndGlyphs">LWFC TO SLOPE</text>
<text x="1326.2" y="1127.7" textLength="104.5" lengthAdjust="spacingAndGlyphs">29- STRUCTURAL SLAB</text>
<text x="1280.2" y="1145" textLength="212.4" lengthAdjust="spacingAndGlyphs">3- INSIDE HORIZONTAL SURFACE RESISTANCE</text>
</g>
<rect x="1292.3" y="1202.1" width="127.1" height="19.1" rx="7" fill="#f7ee9c"/>
<text x="1296.2" y="1217.1" font-size="16.3" textLength="119.6" lengthAdjust="spacingAndGlyphs">ROOF SECTION</text>
<rect x="1294.8" y="1218.4" width="121.4" height="1.7" fill="#000"/>
<rect x="1304.1" y="1224.1" width="104" height="19.2" rx="7" fill="#f7ee9c"/>
<text x="1308.5" y="1238.6" font-size="15.6" textLength="97.1" lengthAdjust="spacingAndGlyphs">DETAIL No.-3</text>
<rect x="1308" y="1240.8" width="98" height="1.4" fill="#000"/>

<!-- ===== Watermark ===== -->
<g opacity="0.72" fill="#d6d6d6">
<text x="783.5" y="1250" font-size="60" font-weight="bold" text-anchor="middle" font-family="'DejaVu Sans',sans-serif">مستقل</text>
<text x="690.3" y="1280" font-size="31" font-weight="bold" textLength="187" lengthAdjust="spacingAndGlyphs">mostaql.com</text>
</g>
</svg>
</body></html>
